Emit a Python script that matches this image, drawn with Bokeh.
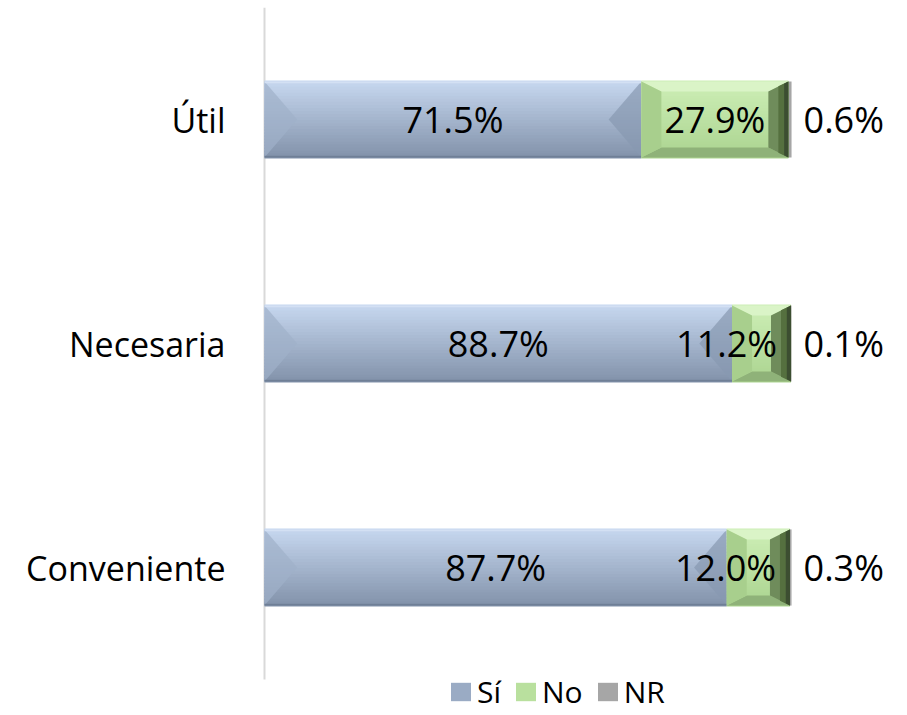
from bokeh.plotting import figure
from bokeh.models import Range1d, Legend, LegendItem, FixedTicker, ColumnDataSource
from bokeh.embed import file_html
from bokeh.resources import INLINE

categories = ["Útil", "Necesaria", "Conveniente"]
si = [71.5, 88.7, 87.7]
no = [27.9, 11.2, 12.0]
nr = [0.6, 0.1, 0.3]
series_names = ["Sí", "No", "NR"]

FONT = "Open Sans"
ypos = [2.5, 1.5, 0.5]
H = 0.34

p = figure(width=907, height=715, output_backend="svg", toolbar_location=None,
           x_range=Range1d(-1.14, 122.0), y_range=Range1d(-0.1607, 3.0),
           min_border_left=258, min_border_right=0, min_border_top=7, min_border_bottom=0)
p.outline_line_color = None
p.xgrid.visible = False
p.ygrid.visible = False
p.xaxis.visible = False
p.yaxis.ticker = FixedTicker(ticks=ypos)
p.yaxis.major_label_overrides = {y: c for y, c in zip(ypos, categories)}
p.yaxis.axis_line_color = None
p.yaxis.major_tick_line_color = None
p.yaxis.minor_tick_line_color = None
p.yaxis.major_label_text_font = FONT
p.yaxis.major_label_text_font_size = "34px"
p.yaxis.major_label_text_color = "#000000"
p.yaxis.major_label_standoff = 27

# axis line
p.segment(x0=[0], y0=[0], x1=[0], y1=[3], line_color="#d9d9d9", line_width=2)

si_end = si
no_start = si
no_end = [a + b for a, b in zip(si, no)]
nr_end = [a + b for a, b in zip(no_end, nr)]


def hexmix(c1, c2, t):
    a = [int(c1[i:i + 2], 16) for i in (1, 3, 5)]
    b = [int(c2[i:i + 2], 16) for i in (1, 3, 5)]
    return "#%02x%02x%02x" % tuple(round(a[k] + (b[k] - a[k]) * t) for k in range(3))


# base bars (also used for the legend)
r_si = p.hbar(y=ypos, left=0, right=si_end, height=H, fill_color="#9aabc4", line_color=None)
r_no = p.hbar(y=ypos, left=no_start, right=no_end, height=H, fill_color="#b9e09e", line_color=None)
r_nr = p.hbar(y=ypos, left=no_end, right=nr_end, height=H, fill_color="#a6a6a6", line_color=None)


def gradient(lefts, rights, top_c, bot_c, n=25):
    ys, ls, rs, cs = [], [], [], []
    sh = H / n
    for l, r, yc in zip(lefts, rights, ypos):
        for k in range(n):
            yy = yc + H / 2 - sh * (k + 0.5)
            ys.append(yy)
            ls.append(l)
            rs.append(r)
            cs.append(hexmix(top_c, bot_c, k / (n - 1)))
    p.hbar(y=ys, left=ls, right=rs, height=sh * 1.6, fill_color=cs, line_color=None)


def facets(x0s, x1s, dx, dy, cols, alpha):
    xs, ys, fc = [], [], []
    ctop, cbot, cleft, cright = cols
    for x0, x1, yc in zip(x0s, x1s, ypos):
        d = min(dx, (x1 - x0) / 2.0)
        yt, yb = yc + H / 2, yc - H / 2
        e = min(dy, H / 2)
        for poly_x, poly_y, c in (
            ([x0, x1, x1 - d, x0 + d], [yt, yt, yt - e, yt - e], ctop),
            ([x0, x1, x1 - d, x0 + d], [yb, yb, yb + e, yb + e], cbot),
            ([x0, x0 + d, x0 + d, x0], [yt, yt - e, yb + e, yb], cleft),
            ([x1, x1 - d, x1 - d, x1], [yt, yt - e, yb + e, yb], cright),
        ):
            if c is None:
                continue
            xs.append(poly_x); ys.append(poly_y); fc.append(c)
    p.patches(xs=xs, ys=ys, fill_color=fc, fill_alpha=alpha, line_color=None)


# Sí: smooth vertical gradient + soft side chevrons
gradient([0] * 3, si_end, "#c6d7ef", "#8494ac")
facets([0] * 3, si_end, 6.2, H / 2, (None, None, "#9fb0c9", "#8898b0"), 0.7)
p.hbar(y=[y + H / 2 - 0.004 for y in ypos], left=0, right=si_end, height=0.008,
       fill_color="#d3e0f3", line_color=None)
p.hbar(y=[y - H / 2 + 0.004 for y in ypos], left=0, right=si_end, height=0.008,
       fill_color="#6f7f96", line_color=None)

# No: pyramid bevel
gradient(no_start, no_end, "#cdeeb6", "#acd591")
facets(no_start, no_end, 3.8, 0.045, ("#daf4c7", "#8fb279", "#a8cf8d", "#6f8c5b"), 1.0)
facets(no_start, no_end, 1.9, 0.022, (None, None, None, "#55703f"), 1.0)
facets(no_start, no_end, 0.8, 0.01, (None, None, None, "#3c4e31"), 1.0)

# labels
src_si = ColumnDataSource(dict(x=[v / 2 for v in si], y=ypos, t=[f"{v:.1f}%" for v in si]))
p.text(x="x", y="y", text="t", source=src_si, text_align="center", text_baseline="middle",
       text_font_size="36px", text_color="#000000", text_font={"value": FONT})

no_x, no_align, no_off = [], [], []
for s, n in zip(si, no):
    if n >= 20:
        no_x.append(s + n / 2); no_align.append("center"); no_off.append(0)
    else:
        no_x.append(s + n); no_align.append("right"); no_off.append(-14)
src_no = ColumnDataSource(dict(x=no_x, y=ypos, t=[f"{v:.1f}%" for v in no], a=no_align, o=no_off))
p.text(x="x", y="y", text="t", source=src_no, text_align="a", text_baseline="middle",
       x_offset="o", text_font_size="36px", text_color="#000000", text_font={"value": FONT})

src_nr = ColumnDataSource(dict(x=[100] * 3, y=ypos, t=[f"{v:.1f}%" for v in nr]))
p.text(x="x", y="y", text="t", source=src_nr, text_align="left", text_baseline="middle",
       x_offset=12, text_font_size="36px", text_color="#000000", text_font={"value": FONT})

legend = Legend(items=[LegendItem(label=series_names[0], renderers=[r_si]),
                       LegendItem(label=series_names[1], renderers=[r_no]),
                       LegendItem(label=series_names[2], renderers=[r_nr])],
                orientation="horizontal", location=(190, 3))
legend.label_text_font = FONT
legend.label_text_font_size = "30px"
legend.label_text_color = "#000000"
legend.glyph_width = 25
legend.glyph_height = 23
legend.label_standoff = 4
legend.spacing = 12
legend.padding = 0
legend.margin = 0
legend.border_line_color = None
legend.background_fill_alpha = 0
p.add_layout(legend, "center")

open("out.html", "w").write(file_html(p, INLINE))
